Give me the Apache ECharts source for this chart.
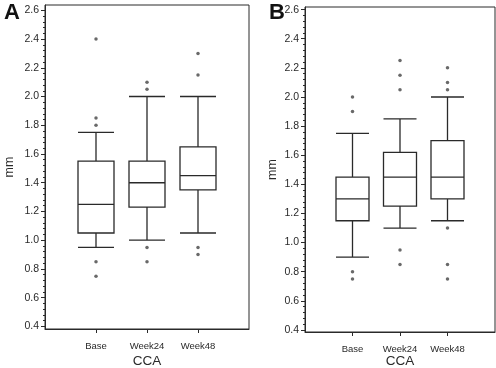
<!DOCTYPE html>
<html>
<head>
<meta charset="utf-8">
<script src="https://cdn.jsdelivr.net/npm/echarts@6/dist/echarts.min.js"></script>
<style>
  html, body { margin: 0; padding: 0; background: #fff; }
  #chart { width: 496px; height: 368px; }
</style>
</head>
<body>
<div id="chart"></div>
<script>
// categories (blank ends give the half-empty bands at both sides)
const categories = ["", "Base", "Week24", "Week48", ""];
const groups = ["Base", "Week24", "Week48"];

// [low whisker, Q1, median, Q3, high whisker]
const boxA = [
    [0.95, 1.05, 1.25, 1.55, 1.75],
    [1.00, 1.23, 1.40, 1.55, 2.00],
    [1.05, 1.35, 1.45, 1.65, 2.00]
];
const outA = [
    [2.4, 1.85, 1.8, 0.85, 0.75],
    [2.1, 2.05, 0.95, 0.85],
    [2.3, 2.15, 0.95, 0.9]
];
const boxB = [
    [0.90, 1.15, 1.30, 1.45, 1.75],
    [1.10, 1.25, 1.45, 1.62, 1.85],
    [1.15, 1.30, 1.45, 1.70, 2.00]
];
const outB = [
    [2.0, 1.9, 0.8, 0.75],
    [2.25, 2.15, 2.05, 0.95, 0.85],
    [2.2, 2.1, 2.05, 1.1, 0.85, 0.75]
];

const yTicks = [0.4, 0.6, 0.8, 1.0, 1.2, 1.4, 1.6, 1.8, 2.0, 2.2, 2.4, 2.6];
const yMinor = [];
for (let i = 10; i <= 65; i++) yMinor.push(i * 0.04);

const ink = "#2a2a2a";
const font = "'Liberation Sans', Arial, sans-serif";

let chart = echarts.init(document.getElementById("chart"));

function xAxis(gi, gap) {
    return {
        type: "category",
        gridIndex: gi,
        data: categories,
        boundaryGap: false,
        name: "CCA",
        nameLocation: "middle",
        nameGap: gap,
        nameMoveOverlap: false,
        nameTextStyle: { fontFamily: font, fontSize: 13.5, color: ink },
        axisLine: { lineStyle: { color: ink, width: 1 } },
        axisTick: { interval: (i) => i >= 1 && i <= 3, length: 4, lineStyle: { color: ink } },
        axisLabel: {
            interval: (i) => i >= 1 && i <= 3,
            margin: 12,
            fontFamily: font,
            fontSize: 9.5,
            color: ink
        },
        splitLine: { show: false }
    };
}

function yAxes(gi, min, max, gap) {
    return [
        {
            type: "value",
            gridIndex: gi,
            min: min,
            max: max,
            name: "mm",
            nameLocation: "middle",
            nameGap: gap,
            nameRotate: 90,
            nameMoveOverlap: false,
            nameTextStyle: { fontFamily: font, fontSize: 12.5, color: ink },
            axisLine: { show: true, lineStyle: { color: ink, width: 1 } },
            axisTick: { show: true, length: 4, customValues: yTicks, lineStyle: { color: ink } },
            axisLabel: {
                customValues: yTicks,
                margin: 6,
                fontFamily: font,
                fontSize: 10.5,
                color: ink,
                formatter: (v) => v.toFixed(1)
            },
            splitLine: { show: false }
        },
        {
            type: "value",
            gridIndex: gi,
            min: min,
            max: max,
            position: "left",
            axisLine: { show: false },
            axisTick: { show: true, length: 2, customValues: yMinor, lineStyle: { color: ink } },
            axisLabel: { show: false },
            splitLine: { show: false }
        }
    ];
}

function boxSeries(gi, boxes, width) {
    return {
        type: "boxplot",
        xAxisIndex: gi,
        yAxisIndex: gi * 2,
        boxWidth: [width, width],
        encode: { x: 0, y: [1, 2, 3, 4, 5] },
        data: groups.map((g, i) => [g].concat(boxes[i])),
        itemStyle: { color: "#fff", borderColor: ink, borderWidth: 1.3 },
        silent: true
    };
}

function outlierSeries(gi, outs) {
    let pts = [];
    groups.forEach((g, i) => outs[i].forEach(v => pts.push([g, v])));
    return {
        type: "scatter",
        xAxisIndex: gi,
        yAxisIndex: gi * 2,
        symbolSize: 3.5,
        itemStyle: { color: "#444" },
        data: pts,
        silent: true
    };
}

let option = {
    animation: false,
    backgroundColor: "#fff",
    grid: [
        { left: 45, top: 5, width: 204, height: 324, outerBoundsMode: "none", containLabel: false, show: true, borderColor: ink, borderWidth: 1 },
        { left: 305, top: 7, width: 190, height: 325, outerBoundsMode: "none", containLabel: false, show: true, borderColor: ink, borderWidth: 1 }
    ],
    title: [
        { text: "A", left: -1, top: -3, textStyle: { fontFamily: font, fontSize: 22, fontWeight: "bold", color: "#111" } },
        { text: "B", left: 264, top: -3, textStyle: { fontFamily: font, fontSize: 22, fontWeight: "bold", color: "#111" } }
    ],
    xAxis: [xAxis(0, 25), xAxis(1, 22)],
    yAxis: yAxes(0, 0.382, 2.637, 29).concat(yAxes(1, 0.386, 2.618, 26)),
    series: [
        boxSeries(0, boxA, 36),
        outlierSeries(0, outA),
        boxSeries(1, boxB, 33),
        outlierSeries(1, outB)
    ]
};
chart.setOption(option);
</script>
</body>
</html>
